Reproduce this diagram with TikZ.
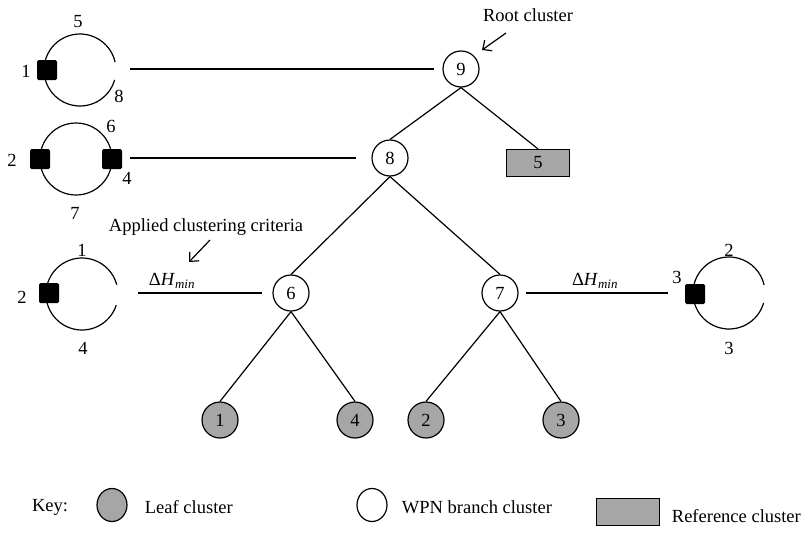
\documentclass[tikz,border=0pt]{standalone}
\usepackage{fontspec}
\setmainfont{Liberation Serif}
\usetikzlibrary{arrows.meta,shapes.geometric}

\begin{document}
\begin{tikzpicture}[x=1pt, y=-1pt, >={Straight Barb[length=7pt,width=13pt]}, line width=1.2pt,
    font=\fontsize{18.5}{22}\selectfont]
    \tikzset{branch/.style={circle, draw, minimum size=36pt, inner sep=0pt},
             leaf/.style={branch, fill=gray!70},
             refbox/.style={draw, fill=gray!70, minimum width=63pt, minimum height=27pt, inner sep=0pt},
             port/.style={fill=black, minimum size=20pt, inner sep=0pt, rounded corners=1.5pt},
             keyshape/.style={ellipse, draw, minimum width=30pt, minimum height=33pt, inner sep=0pt},
             num/.style={inner sep=1pt}}
    \useasboundingbox (0,0) rectangle (810,538);

    % cluster tree
    \node[branch] (n9) at (461,69) {9};
    \node[branch] (n8) at (390,158) {8};
    \node[refbox] (r5) at (538,163) {5};
    \node[branch] (n6) at (291,293) {6};
    \node[branch] (n7) at (500,293) {7};
    \node[leaf] (l1) at (220,420) {1};
    \node[leaf] (l4) at (355,420) {4};
    \node[leaf] (l2) at (426,420) {2};
    \node[leaf] (l3) at (561,420) {3};
    \draw (n9.south) -- (n8.north);
    \draw (n9.south) -- (r5.north);
    \draw (n8.south) -- (n6.north);
    \draw (n8.south) -- (n7.north);
    \draw (n6.south) -- (l1.north);
    \draw (n6.south) -- (l4.north);
    \draw (n7.south) -- (l2.north);
    \draw (n7.south) -- (l3.north);

    % links to the networks
    \coordinate (h9) at (130,69);
    \coordinate (h8) at (130,158);
    \coordinate (h6) at (138,293);
    \coordinate (h7) at (668,293);
    \draw[shorten >=8pt] (h9) -- (n9.west);
    \draw[shorten >=15pt] (h8) -- (n8.west);
    \draw[shorten >=10pt] (h6) -- (n6.west);
    \draw[shorten <=7pt] (n7.east) -- (h7);
    \node (dhl) at (172,281) {Δ\textit{H}\textsubscript{\textit{min}}};
    \node (dhr) at (595,281) {Δ\textit{H}\textsubscript{\textit{min}}};

    % annotations
    \node (rootlbl) at (528,15) {Root cluster};
    \coordinate (rt) at (506,33);
    \coordinate (rh) at (482,50);
    \draw[->] (rt) -- (rh);
    \node (critlbl) at (206,227) {Applied clustering criteria};
    \coordinate (ct) at (210,240);
    \coordinate (ch) at (189,262);
    \draw[->] (ct) -- (ch);

    % networks
    \coordinate (c1) at (80,70);
    \draw ([shift={(16:36)}]c1) arc[start angle=16, end angle=347, radius=36];
    \node[port] (p1) at (47,70) {};
    \node[num] (t1a) at (26,71) {1};
    \node[num] (t1b) at (78,22) {5};
    \node[num] (t1c) at (119,96) {8};

    \coordinate (c2) at (76,159);
    \draw (c2) circle[radius=36];
    \node[port] (p2a) at (40,159) {};
    \node[port] (p2b) at (112,159) {};
    \node[num] (t2a) at (12,160) {2};
    \node[num] (t2b) at (111,126) {6};
    \node[num] (t2c) at (127,178) {4};
    \node[num] (t2d) at (75,213) {7};

    \coordinate (c3) at (82,294);
    \draw ([shift={(18:36)}]c3) arc[start angle=18, end angle=345, radius=36];
    \node[port] (p3) at (49,293) {};
    \node[num] (t3a) at (22,297) {2};
    \node[num] (t3b) at (82,250) {1};
    \node[num] (t3c) at (83,348) {4};

    \coordinate (c4) at (729,293);
    \draw ([shift={(16:36)}]c4) arc[start angle=16, end angle=347, radius=36];
    \node[port] (p4) at (695,294) {};
    \node[num] (t4a) at (677,277) {3};
    \node[num] (t4b) at (729,250) {2};
    \node[num] (t4c) at (729,348) {3};

    % key
    \node (keylbl) at (50,507) {Key:};
    \node[keyshape, fill=gray!70] (kleaf) at (112,505) {};
    \node[anchor=west] (kleaft) at (141,507) {Leaf cluster};
    \node[keyshape] (kbranch) at (372,505) {};
    \node[anchor=west] (kbrancht) at (398,507) {WPN branch cluster};
    \node[refbox] (kref) at (628,512) {};
    \node[anchor=west] (kreft) at (668,516) {Reference cluster};
\end{tikzpicture}
\end{document}
